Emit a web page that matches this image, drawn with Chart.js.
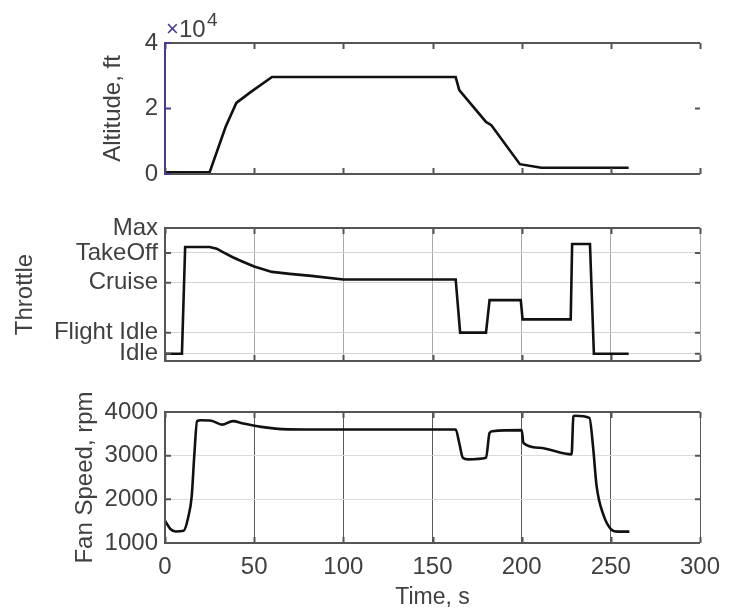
<!DOCTYPE html>
<html>
<head>
<meta charset="utf-8">
<script src="https://cdn.jsdelivr.net/npm/chart.js@4.4.0/dist/chart.umd.min.js"></script>
<style>
  html, body { margin: 0; padding: 0; background: #fff; }
  #wrap { position: relative; width: 740px; height: 613px; }
  #wrap canvas { position: absolute; left: 0; }
</style>
</head>
<body>
<div id="wrap">
  <canvas id="altChart" width="740" height="200" style="top:0px"></canvas>
  <canvas id="throttleChart" width="740" height="185" style="top:200px"></canvas>
  <canvas id="fanChart" width="740" height="228" style="top:385px"></canvas>
</div>
<script>
// time axis
const timeTicks = [0, 50, 100, 150, 200, 250, 300];

// altitude, ft
const altTime = [0, 25, 34, 40, 48, 60, 163, 165, 180, 183, 199, 211, 260];
const altValue = [500, 500, 14400, 21700, 25000, 29600, 29600, 25600, 15900, 14900, 3000, 1900, 1900];
const altTicks = [0, 20000, 40000];

// throttle (0..100 position scale)
const throttleTime = [0, 9.5, 11.3, 25, 29, 33, 38, 43, 50, 60, 70, 82, 100, 163, 165.5, 180, 182, 199.5, 200.5, 227.5, 228.3, 238.3, 240.5, 260];
const throttleValue = [5.5, 5.5, 85.7, 85.7, 84.5, 81.5, 78, 75, 71, 67, 65.5, 64, 61.3, 61.3, 21.3, 21.3, 45.8, 45.8, 31.3, 31.3, 88, 88, 5.5, 5.5];
const throttleTickValues = [5.5, 21.25, 58.75, 81.25, 100];
const throttleTickLabels = ['Idle', 'Flight Idle', 'Cruise', 'TakeOff', 'Max'];

// fan speed, rpm
const fanTime = [0, 3, 6, 10.4, 13, 15, 16.4, 18, 20, 26, 32, 38, 44, 54, 62, 78, 163, 165, 167, 170, 180, 182, 183.6, 200, 201, 210, 228, 229, 230, 238, 240, 242, 246, 250, 254, 260.4];
const fanValue = [1510, 1320, 1265, 1280, 1585, 2080, 2990, 3790, 3810, 3800, 3710, 3790, 3735, 3660, 3620, 3600, 3600, 3290, 2950, 2915, 2950, 3520, 3560, 3585, 3290, 3180, 3030, 3900, 3915, 3865, 3220, 2310, 1625, 1320, 1260, 1260];
const fanTicks = [1000, 2000, 3000, 4000];

const FONT = "'Liberation Sans', Arial, sans-serif";
const TEXT = '#404040';
const FRAME = '#555555';
const PURPLE = '#4a3a8e';

function toPoints(xs, ys) {
    return xs.map((x, i) => ({ x: x, y: ys[i] }));
}

// box + inward ticks, drawn through the chart scales
const framePlugin = {
    id: 'frame',
    afterDraw(chart, args, opts) {
        const { ctx, chartArea: a, scales } = chart;
        ctx.save();
        ctx.lineWidth = 2;
        // top and bottom border
        ctx.strokeStyle = FRAME;
        ctx.beginPath();
        ctx.moveTo(a.left, a.top); ctx.lineTo(a.right, a.top);
        ctx.moveTo(a.left, a.bottom); ctx.lineTo(a.right, a.bottom);
        ctx.stroke();
        // x ticks
        timeTicks.forEach(v => {
            const px = Math.round(scales.x.getPixelForValue(v)) + 0.5;
            ctx.beginPath();
            ctx.moveTo(px, a.bottom); ctx.lineTo(px, a.bottom - 6);
            ctx.moveTo(px, a.top); ctx.lineTo(px, a.top + 6);
            ctx.stroke();
        });
        // left border + y ticks
        ctx.strokeStyle = opts.leftColor || FRAME;
        ctx.beginPath();
        ctx.moveTo(a.left, a.top - 1); ctx.lineTo(a.left, a.bottom + 1);
        (opts.yTicks || []).forEach(v => {
            const py = scales.y.getPixelForValue(v);
            ctx.moveTo(a.left, py); ctx.lineTo(a.left + 6, py);
        });
        ctx.stroke();
        ctx.strokeStyle = FRAME;
        ctx.beginPath();
        (opts.yTicks || []).forEach(v => {
            const py = scales.y.getPixelForValue(v);
            ctx.moveTo(a.right, py); ctx.lineTo(a.right - 5, py);
        });
        ctx.stroke();
        ctx.restore();
    }
};

// "x10^4" exponent label
const exponentPlugin = {
    id: 'exponent',
    afterDraw(chart) {
        const { ctx, chartArea: a } = chart;
        ctx.save();
        ctx.textBaseline = 'alphabetic';
        ctx.font = '22px ' + FONT;
        ctx.fillStyle = PURPLE;
        ctx.fillText('\u00d7', a.left + 1, a.top - 7);
        ctx.fillStyle = TEXT;
        ctx.font = '24px ' + FONT;
        ctx.fillText('10', a.left + 14, a.top - 6);
        ctx.font = '19px ' + FONT;
        ctx.fillText('4', a.left + 42, a.top - 17);
        ctx.restore();
    }
};

function lineDataset(xs, ys, smooth) {
    return {
        data: toPoints(xs, ys),
        borderColor: '#111111',
        borderWidth: 2.6,
        pointRadius: 0,
        fill: false,
        tension: smooth ? 0.3 : 0,
        cubicInterpolationMode: smooth ? 'monotone' : 'default'
    };
}

function baseX(showLabels, gridColor) {
    return {
        type: 'linear',
        min: 0,
        max: 300,
        afterBuildTicks: s => { s.ticks = timeTicks.map(v => ({ value: v })); },
        grid: { display: !!gridColor, color: gridColor || 'transparent', lineWidth: 1, drawTicks: false },
        border: { display: false },
        ticks: { display: showLabels, color: TEXT, padding: 10, font: { family: FONT, size: 24 }, maxRotation: 0 },
        title: showLabels ? { display: true, text: 'Time, s', color: TEXT, font: { family: FONT, size: 23 }, padding: { top: 0, bottom: 2 } } : { display: false },
        afterFit: s => { s.height = showLabels ? 70 : 0; }
    };
}

function yAxis(opts) {
    return {
        type: 'linear',
        min: opts.min,
        max: opts.max,
        afterBuildTicks: s => { s.ticks = opts.ticks.map(v => ({ value: v })); },
        grid: { display: !!opts.gridColor, color: opts.gridColor || 'transparent', lineWidth: 1, drawTicks: false },
        border: { display: false },
        ticks: { color: TEXT, padding: 7, autoSkip: false, font: { family: FONT, size: 24 }, callback: opts.callback },
        title: { display: true, text: opts.title, color: TEXT, font: { family: FONT, size: 24 }, padding: { top: opts.titlePad, bottom: 0 } },
        afterFit: s => { s.width = 165; }
    };
}

const common = {
    responsive: false,
    animation: false,
    plugins: { legend: { display: false }, tooltip: { enabled: false } }
};

// Altitude
new Chart(document.getElementById('altChart').getContext('2d'), {
    type: 'line',
    data: { datasets: [lineDataset(altTime, altValue, false)] },
    options: {
        ...common,
        layout: { padding: { top: 43, bottom: 26, left: 0, right: 40 } },
        plugins: { ...common.plugins, frame: { leftColor: PURPLE, yTicks: altTicks } },
        scales: {
            x: { ...baseX(false, null), display: false },
            y: yAxis({ min: 0, max: 40000, ticks: altTicks, title: 'Altitude, ft', titlePad: 99, callback: v => String(v / 10000) })
        }
    },
    plugins: [framePlugin, exponentPlugin]
});

// Throttle
new Chart(document.getElementById('throttleChart').getContext('2d'), {
    type: 'line',
    data: { datasets: [lineDataset(throttleTime, throttleValue, false)] },
    options: {
        ...common,
        layout: { padding: { top: 28, bottom: 24, left: 0, right: 40 } },
        plugins: { ...common.plugins, frame: { yTicks: throttleTickValues } },
        scales: {
            x: baseX(false, '#a8a8a8'),
            y: yAxis({ min: 0, max: 100, ticks: throttleTickValues, title: 'Throttle', titlePad: 11, gridColor: '#d4d4d4',
                callback: (v, i) => throttleTickLabels[i] })
        }
    },
    plugins: [framePlugin]
});

// Fan speed
new Chart(document.getElementById('fanChart').getContext('2d'), {
    type: 'line',
    data: { datasets: [lineDataset(fanTime, fanValue, true)] },
    options: {
        ...common,
        layout: { padding: { top: 27, bottom: 0, left: 0, right: 40 } },
        plugins: { ...common.plugins, frame: { yTicks: fanTicks } },
        scales: {
            x: baseX(true, '#5a5a5a'),
            y: yAxis({ min: 1000, max: 4000, ticks: fanTicks, title: 'Fan Speed, rpm', titlePad: 71, gridColor: '#dcdcdc',
                callback: v => String(v) })
        }
    },
    plugins: [framePlugin]
});
</script>
</body>
</html>
